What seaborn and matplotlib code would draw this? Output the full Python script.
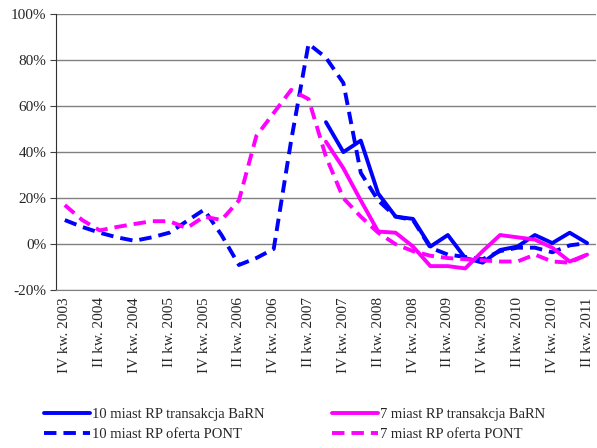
import numpy as np
import pandas as pd
import matplotlib
matplotlib.use("Agg")
import matplotlib.pyplot as plt
import seaborn as sns

# quarters IV 2003 .. II 2011
quarters = ["IV kw. 2003", "I kw. 2004", "II kw. 2004", "III kw. 2004", "IV kw. 2004",
            "I kw. 2005", "II kw. 2005", "III kw. 2005", "IV kw. 2005",
            "I kw. 2006", "II kw. 2006", "III kw. 2006", "IV kw. 2006",
            "I kw. 2007", "II kw. 2007", "III kw. 2007", "IV kw. 2007",
            "I kw. 2008", "II kw. 2008", "III kw. 2008", "IV kw. 2008",
            "I kw. 2009", "II kw. 2009", "III kw. 2009", "IV kw. 2009",
            "I kw. 2010", "II kw. 2010", "III kw. 2010", "IV kw. 2010",
            "I kw. 2011", "II kw. 2011"]

nan = np.nan
barn_10 = [nan] * 15 + [53, 40, 45, 22, 12, 11, -1, 4, -6, -8, -2.5, -1, 4, 0.5, 5, 0.5]
barn_7 = [nan] * 15 + [44.5, 33, 19, 5.5, 5, -1, -9.5, -9.5, -10.5, -3, 4, 3, 2, -1.5, -7.5, -4.5]
pont_10 = [10.5, 7.5, 5, 3, 1.5, 3, 5, 10, 15, 4, -9, -6, -2, 45, 87, 81, 70,
           31, 19, 12, 10.5, -1.5, -4.5, -5.5, -6.5, -3, -1.5, -1.5, -3.5, -0.5, 0.5]
pont_7 = [17, 10.5, 6, 7.5, 8.8, 10, 10, 7, 12, 10.5, 19, 47, 57, 67, 63, 38, 20,
          12, 5, 0, -3, -5, -6, -6.5, -7, -7.5, -7.5, -4.5, -7.5, -8, -4.5]

sns.set_style("white")
plt.rcParams['font.family'] = ['Liberation Serif', 'DejaVu Serif']

fig = plt.figure(figsize=(5.97, 4.48), dpi=100)
ax = fig.add_axes([0.094, 0.352, 0.904, 0.617])

x = np.arange(len(quarters))
lw = 2.8
dash = (3.2, 1.8)
sns.lineplot(x=x, y=barn_10, color='#0000FF', lw=lw, label='10 miast RP transakcja BaRN', ax=ax)
sns.lineplot(x=x, y=pont_10, color='#0000FF', lw=lw, linestyle=(0, dash), label='10 miast RP oferta PONT', ax=ax)
sns.lineplot(x=x, y=barn_7, color='#FF00FF', lw=lw, label='7 miast RP transakcja BaRN', ax=ax)
sns.lineplot(x=x, y=pont_7, color='#FF00FF', lw=lw, linestyle=(0, dash), label='7 miast RP oferta PONT', ax=ax)

ax.set_xlim(-0.5, len(quarters) - 0.5)
ax.set_ylim(-20, 100)
ax.set_yticks(range(-20, 101, 20))
ax.set_yticklabels([f"{v}%" for v in range(-20, 101, 20)], fontsize=11)
ax.set_xticks(x[::2])
ax.set_xticklabels(quarters[::2], rotation=90, fontsize=11)
ax.yaxis.grid(True, color='#808080', lw=1)
ax.set_axisbelow(True)
ax.tick_params(axis='y', which='both', left=True, length=4, color='#404040', pad=3)
ax.tick_params(axis='x', length=0, pad=5)

for s in ['top', 'right']:
    ax.spines[s].set_visible(False)
ax.spines['left'].set_color('#303030')
ax.spines['bottom'].set_color('#808080')

ax.legend(loc='center', bbox_to_anchor=(0.493, 0.052), bbox_transform=fig.transFigure,
          ncol=2, frameon=False, fontsize=10.5, handlelength=3.2,
          handletextpad=0.1, columnspacing=4.6, labelspacing=0.45)

fig.savefig("out.png", dpi=100)
